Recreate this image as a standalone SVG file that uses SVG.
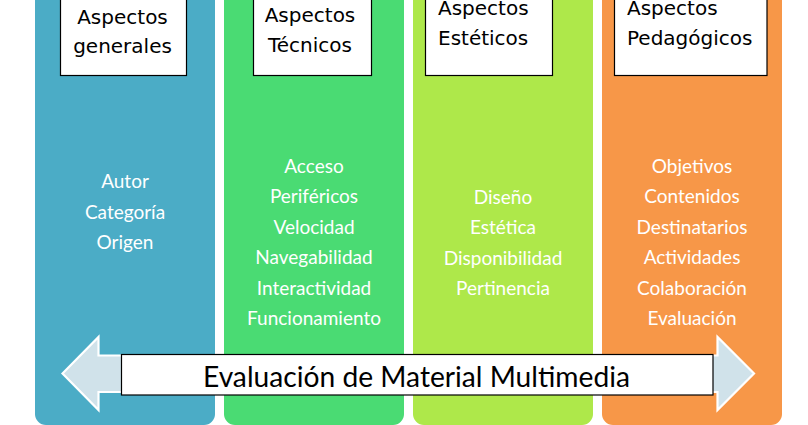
<svg xmlns="http://www.w3.org/2000/svg" width="808" height="425" viewBox="0 0 808 425">
<style>
.col{stroke:none}
.hbox{fill:#FFFFFF;stroke:#000000;stroke-width:1.2}
.htxt{font-family:"DejaVu Sans",sans-serif;font-size:20px;fill:#000000}
.btxt{font-family:Lato,"Open Sans",sans-serif;font-size:19px;fill:#FFFFFF;text-anchor:middle}
.arrow{fill:#D0E2EA;stroke:#FFFFFF;stroke-width:2.2;stroke-linejoin:miter}
.ltxt{font-family:Lato,"Open Sans",sans-serif;font-size:28px;fill:#000000}
</style>
<rect width="808" height="425" fill="#FFFFFF"/>
<g id="col-generales">
<rect class="col" x="35" y="-30" width="180" height="455" rx="11" fill="#4BACC6"/>
<rect class="hbox" x="60.5" y="-5" width="126" height="80.5"/>
<text class="htxt" x="122.5" y="24" text-anchor="middle">Aspectos</text>
<text class="htxt" x="122.5" y="53" text-anchor="middle">generales</text>
<text class="btxt" x="125" y="188">Autor</text>
<text class="btxt" x="125" y="218.5">Categoría</text>
<text class="btxt" x="125" y="249">Origen</text>
</g>
<g id="col-tecnicos">
<rect class="col" x="224" y="-30" width="180" height="455" rx="11" fill="#4ADB73"/>
<rect class="hbox" x="253.5" y="-5" width="118" height="80.5"/>
<text class="htxt" x="310" y="22" text-anchor="middle">Aspectos</text>
<text class="htxt" x="310" y="52" text-anchor="middle">Técnicos</text>
<text class="btxt" x="314" y="172.5">Acceso</text>
<text class="btxt" x="314" y="203">Periféricos</text>
<text class="btxt" x="314" y="233.5">Velocidad</text>
<text class="btxt" x="314" y="264">Navegabilidad</text>
<text class="btxt" x="314" y="294.5">Interactividad</text>
<text class="btxt" x="314" y="325">Funcionamiento</text>
</g>
<g id="col-esteticos">
<rect class="col" x="413" y="-30" width="180" height="455" rx="11" fill="#AEE84A"/>
<rect class="hbox" x="425.5" y="-5" width="127" height="80.5"/>
<text class="htxt" x="438" y="15">Aspectos</text>
<text class="htxt" x="438" y="45">Estéticos</text>
<text class="btxt" x="503" y="203.5">Diseño</text>
<text class="btxt" x="503" y="234">Estética</text>
<text class="btxt" x="503" y="264.5">Disponibilidad</text>
<text class="btxt" x="503" y="295">Pertinencia</text>
</g>
<g id="col-pedagogicos">
<rect class="col" x="602" y="-30" width="180" height="455" rx="11" fill="#F79748"/>
<rect class="hbox" x="614.5" y="-5" width="152.5" height="80.5"/>
<text class="htxt" x="627" y="15">Aspectos</text>
<text class="htxt" x="627" y="45">Pedagógicos</text>
<text class="btxt" x="692" y="172.5">Objetivos</text>
<text class="btxt" x="692" y="203">Contenidos</text>
<text class="btxt" x="692" y="233.5">Destinatarios</text>
<text class="btxt" x="692" y="264">Actividades</text>
<text class="btxt" x="692" y="294.5">Colaboración</text>
<text class="btxt" x="692" y="325">Evaluación</text>
</g>
<g id="connectors">
<polygon class="arrow" points="62.5,373.5 98.5,337 98.5,355.5 717.5,355.5 717.5,337 754,373.5 717.5,410 717.5,392 98.5,392 98.5,410"/>
</g>
<g id="label-evaluacion">
<rect class="hbox" x="121.5" y="354.5" width="591.5" height="40.5"/>
<text class="ltxt" x="203" y="387" textLength="427" lengthAdjust="spacingAndGlyphs">Evaluación de Material Multimedia</text>
</g>
</svg>
